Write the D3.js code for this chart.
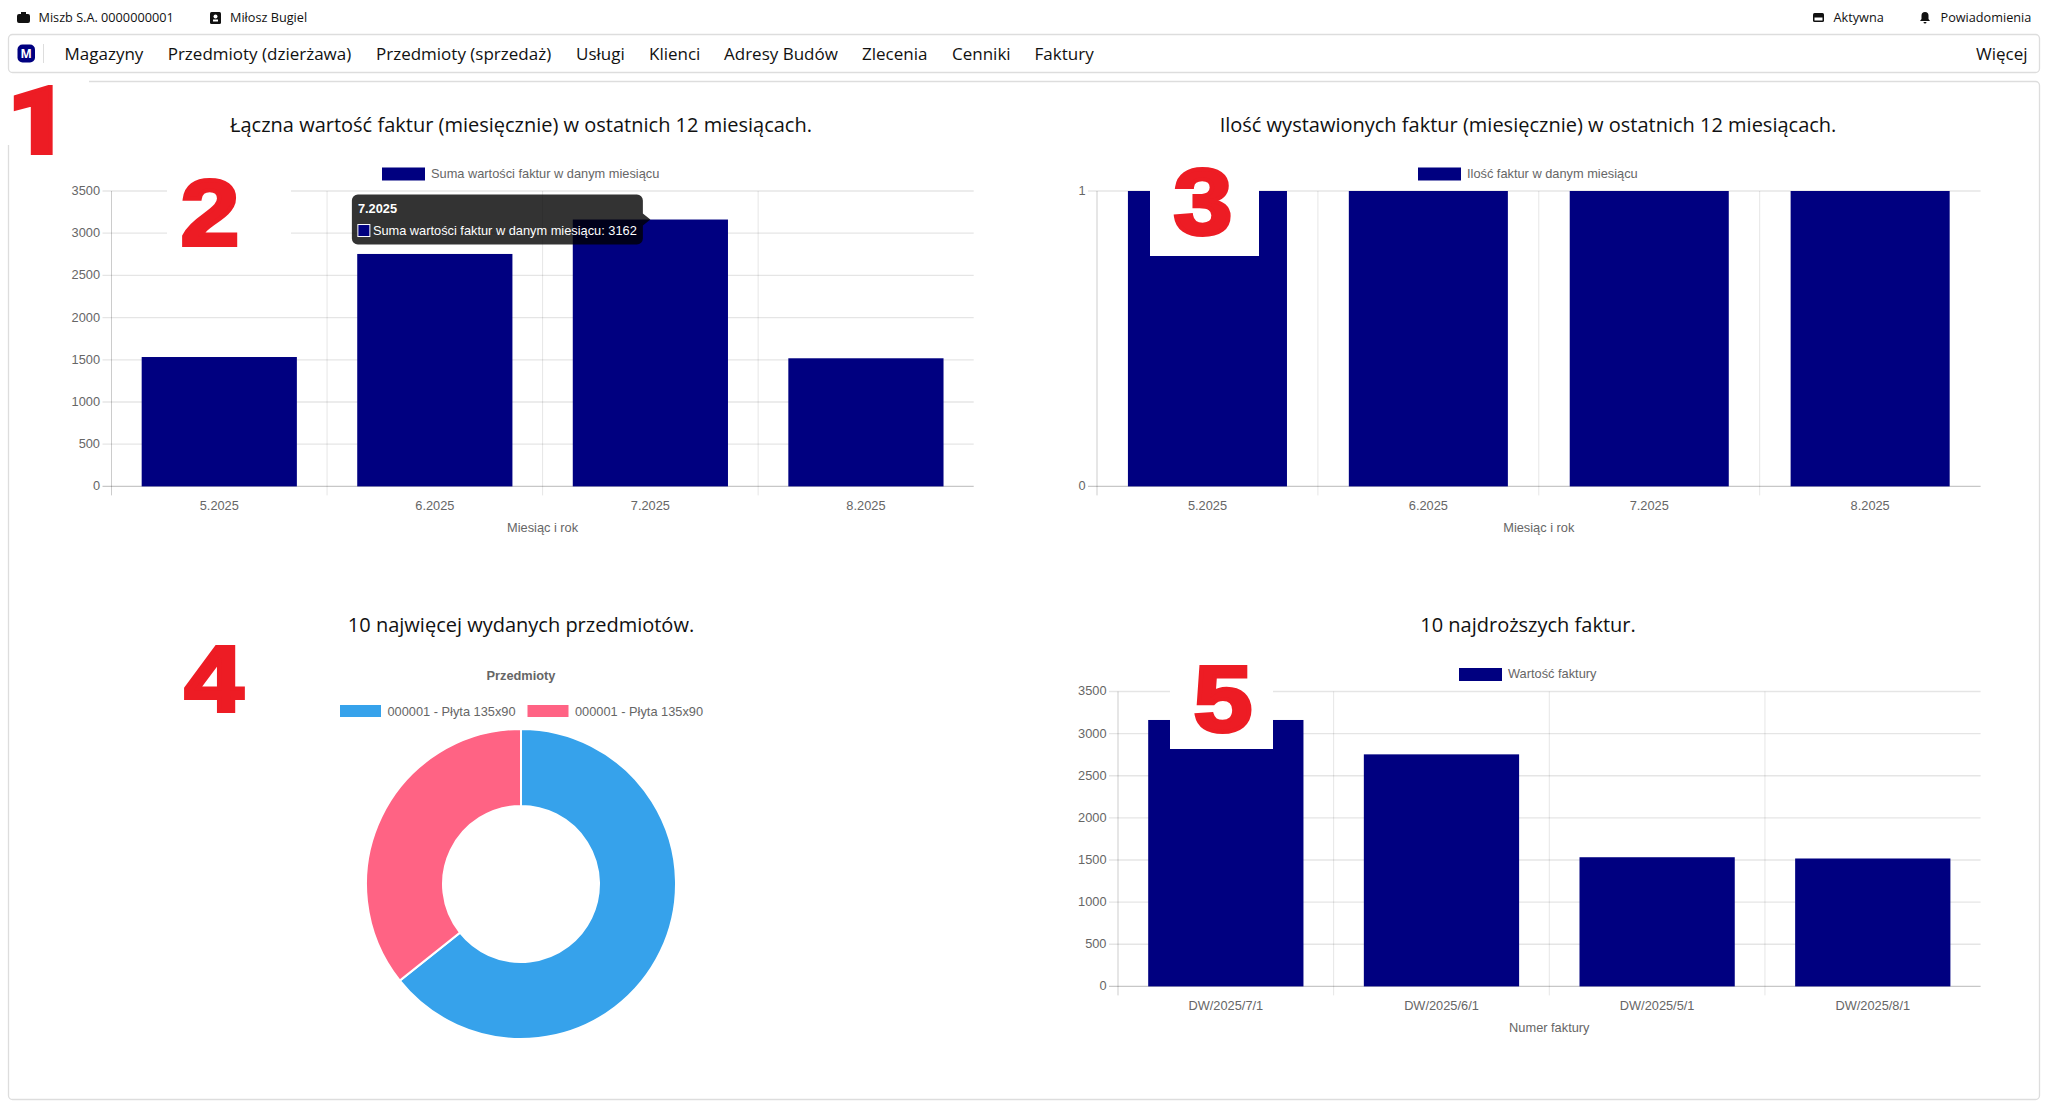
<!DOCTYPE html>
<html>
<head>
<meta charset="utf-8">
<script src="https://d3js.org/d3.v7.min.js"></script>
<style>
  body { margin: 0; background: #fff; }
  svg { display: block; }
  .ui { font-family: "Open Sans", sans-serif; fill: #111; }
  .ch { font-family: "Liberation Sans", Arial, sans-serif; fill: #666; font-size: 12.8px; }
</style>
</head>
<body>
<svg id="page" width="2048" height="1107"></svg>
<script>

// chart data
var months = ["5.2025", "6.2025", "7.2025", "8.2025"];
var monthTotals = [1533, 2754, 3162, 1518];
var monthCounts = [1, 1, 1, 1];
var invoiceNames = ["DW/2025/7/1", "DW/2025/6/1", "DW/2025/5/1", "DW/2025/8/1"];
var invoiceValues = [3162, 2754, 1533, 1518];
var itemNames = ["000001 - Płyta 135x90", "000001 - Płyta 135x90"];
var itemValues = [9, 5];
var itemColors = ["#36A2EB", "#FF6384"];
var valueTicks = [0, 500, 1000, 1500, 2000, 2500, 3000, 3500];
var countTicks = [0, 1];

// page chrome texts
var navItems = ["Magazyny", "Przedmioty (dzierżawa)", "Przedmioty (sprzedaż)", "Usługi", "Klienci", "Adresy Budów", "Zlecenia", "Cenniki", "Faktury"];
var navStarts = [64.5, 167.7, 376, 576, 649, 724, 862, 952, 1034.6];

var NAVY = "#000080";
var svg = d3.select("#page");

// outer frames
svg.append("rect").attr("x", 8.5).attr("y", 34.5).attr("width", 2031).attr("height", 38).attr("rx", 4)
  .attr("fill", "#fff").attr("stroke", "#ddd").attr("stroke-width", 1.3);
svg.append("rect").attr("x", 8.5).attr("y", 81.5).attr("width", 2031).attr("height", 1018).attr("rx", 4)
  .attr("fill", "#fff").attr("stroke", "#ddd").attr("stroke-width", 1.3);

// top strip
var topText = function(x, label) {
  svg.append("text").attr("class", "ui").attr("x", x).attr("y", 22).style("font-size", "12.7px").text(label);
};
topText(38.5, "Miszb S.A. 0000000001");
topText(230, "Miłosz Bugiel");
topText(1833.5, "Aktywna");
topText(1940.5, "Powiadomienia");

// little icons in the top strip
svg.append("path").attr("fill", "#111").attr("d", "M19 14h9a2 2 0 0 1 2 2v5a2 2 0 0 1-2 2H19a2 2 0 0 1-2-2v-5a2 2 0 0 1 2-2zM21 14v-2h5v2z");
svg.append("rect").attr("x", 210).attr("y", 12).attr("width", 11).attr("height", 12).attr("rx", 1.5).attr("fill", "#111");
svg.append("circle").attr("cx", 215.5).attr("cy", 16.5).attr("r", 2).attr("fill", "#fff");
svg.append("rect").attr("x", 213).attr("y", 19.5).attr("width", 5).attr("height", 2).attr("fill", "#fff");
svg.append("rect").attr("x", 1813).attr("y", 13).attr("width", 11).attr("height", 9).attr("rx", 1.5).attr("fill", "#111");
svg.append("rect").attr("x", 1814.5).attr("y", 17.5).attr("width", 8).attr("height", 3).attr("fill", "#fff");
svg.append("path").attr("fill", "#111").attr("d", "M1925 12a3.5 3.5 0 0 1 3.5 3.5v3.5l1.5 2h-10l1.5-2v-3.5a3.5 3.5 0 0 1 3.5-3.5zM1923.5 22h3a1.5 1.5 0 0 1-3 0z");

// nav bar
svg.append("rect").attr("x", 17.5).attr("y", 44.5).attr("width", 17.5).attr("height", 18).attr("rx", 5).attr("fill", NAVY);
svg.append("text").attr("x", 26.2).attr("y", 58).attr("text-anchor", "middle")
  .style("font-family", "Open Sans").style("font-weight", 700).style("font-size", "12px").attr("fill", "#fff").text("M");
svg.append("line").attr("x1", 43.5).attr("x2", 43.5).attr("y1", 44).attr("y2", 63).attr("stroke", "#ddd");
svg.selectAll(".nav").data(navItems).enter().append("text")
  .attr("class", "ui nav")
  .attr("x", function(d, i) { return navStarts[i]; })
  .attr("y", 60)
  .style("font-size", "17px")
  .text(function(d) { return d; });
svg.append("text").attr("class", "ui").attr("x", 2027.5).attr("y", 60).attr("text-anchor", "end").style("font-size", "17px").text("Więcej");

// title above a panel
var panelTitle = function(cx, y, label) {
  svg.append("text").attr("class", "ui").attr("x", cx).attr("y", y).attr("text-anchor", "middle")
    .style("font-size", "20px").text(label);
};

// single legend entry for bar charts
var barLegend = function(boxX, y, label) {
  svg.append("rect").attr("x", boxX).attr("y", y - 6.5).attr("width", 43).attr("height", 13).attr("fill", NAVY);
  svg.append("text").attr("class", "ch").attr("x", boxX + 49).attr("y", y + 3.5).text(label);
};

// bar chart panel, same build for all three
var barChart = function(o) {
  var g = svg.append("g");
  var x = d3.scaleBand().domain(o.cats).range([o.left, o.right]).paddingInner(0.28).paddingOuter(0.14);
  var y = d3.scaleLinear().domain(o.domain).range([o.bottom, o.top]);
  var inset = x.step() * 0.14;

  // grid
  g.selectAll(".hgrid").data(o.ticks).enter().append("line")
    .attr("x1", o.left - 9).attr("x2", o.right)
    .attr("y1", function(d) { return y(d); }).attr("y2", function(d) { return y(d); })
    .attr("stroke", function(d) { return d === 0 ? "rgba(0,0,0,0.22)" : "rgba(0,0,0,0.1)"; })
    .attr("stroke-width", 1.3);
  g.selectAll(".vgrid").data(o.cats).enter().append("line")
    .attr("x1", function(d) { return x(d) - inset; }).attr("x2", function(d) { return x(d) - inset; })
    .attr("y1", o.top).attr("y2", o.bottom + 9)
    .attr("stroke", function(d, i) { return i === 0 ? "rgba(0,0,0,0.2)" : "rgba(0,0,0,0.1)"; });

  // bars
  g.selectAll(".bar").data(o.values).enter().append("rect")
    .attr("x", function(d, i) { return x(o.cats[i]); })
    .attr("width", x.bandwidth())
    .attr("y", function(d) { return y(d); })
    .attr("height", function(d) { return y(0) - y(d); })
    .attr("fill", NAVY);

  // axes, only the labels are kept
  var yAxis = g.append("g").attr("transform", "translate(" + o.left + ",0)")
    .call(d3.axisLeft(y).tickValues(o.ticks).tickSize(0).tickPadding(11.5).tickFormat(d3.format("d")));
  var xAxis = g.append("g").attr("transform", "translate(0," + o.bottom + ")")
    .call(d3.axisBottom(x).tickSize(0).tickPadding(15));
  [yAxis, xAxis].forEach(function(a) {
    a.select(".domain").remove();
    a.selectAll("text").attr("class", "ch").attr("fill", null);
    a.attr("font-family", null).attr("font-size", null);
  });
  yAxis.selectAll("text").attr("dy", "0.27em");

  g.append("text").attr("class", "ch").attr("text-anchor", "middle")
    .attr("x", (o.left + o.right) / 2).attr("y", o.bottom + 46).text(o.axisTitle);

  return { x: x, y: y };
};

panelTitle(521, 132, "Łączna wartość faktur (miesięcznie) w ostatnich 12 miesiącach.");
barLegend(382, 174, "Suma wartości faktur w danym miesiącu");
var totals = barChart({ cats: months, values: monthTotals, domain: [0, 3500], ticks: valueTicks,
  left: 111.5, right: 973.7, top: 191, bottom: 486.4, axisTitle: "Miesiąc i rok" });

panelTitle(1528, 132, "Ilość wystawionych faktur (miesięcznie) w ostatnich 12 miesiącach.");
barLegend(1418, 174, "Ilość faktur w danym miesiącu");
barChart({ cats: months, values: monthCounts, domain: [0, 1], ticks: countTicks,
  left: 1097, right: 1980.6, top: 191, bottom: 486.4, axisTitle: "Miesiąc i rok" });

panelTitle(1528, 632, "10 najdroższych faktur.");
barLegend(1459, 674.5, "Wartość faktury");
barChart({ cats: invoiceNames, values: invoiceValues, domain: [0, 3500], ticks: valueTicks,
  left: 1118, right: 1980.6, top: 691.5, bottom: 986.4, axisTitle: "Numer faktury" });

// doughnut
panelTitle(521, 632, "10 najwięcej wydanych przedmiotów.");
svg.append("text").attr("class", "ch").attr("x", 521).attr("y", 680).attr("text-anchor", "middle")
  .style("font-weight", 700).text("Przedmioty");
var legendX = d3.scalePoint().domain(d3.range(itemNames.length)).range([340, 527.5]);
itemNames.forEach(function(name, i) {
  svg.append("rect").attr("x", legendX(i)).attr("y", 705).attr("width", 41).attr("height", 12).attr("fill", itemColors[i]);
  svg.append("text").attr("class", "ch").attr("x", legendX(i) + 47.5).attr("y", 715.5).text(name);
});
var pie = d3.pie().sort(null)(itemValues);
var arc = d3.arc().innerRadius(78).outerRadius(155);
svg.append("g").attr("transform", "translate(521,884)")
  .selectAll("path").data(pie).enter().append("path")
  .attr("d", arc)
  .attr("fill", function(d, i) { return itemColors[i]; })
  .attr("stroke", "#fff").attr("stroke-width", 2);

// tooltip on the third bar of the first chart
var hit = 2;
var tipX = totals.x(months[hit]) + totals.x.bandwidth() / 2;
var tipY = totals.y(monthTotals[hit]);
var tip = svg.append("g").attr("transform", "translate(" + tipX + "," + tipY + ")");
tip.append("path").attr("fill", "rgba(0,0,0,0.8)")
  .attr("d", "M-298.5 -19a6 6 0 0 1 6 -6H-13.5a6 6 0 0 1 6 6V-6L0 0L-7.5 6V19a6 6 0 0 1 -6 6H-292.5a6 6 0 0 1 -6 -6z");
tip.append("text").attr("x", -292.5).attr("y", -7).attr("fill", "#fff")
  .style("font-family", "Liberation Sans").style("font-weight", 700).style("font-size", "12.8px").text(months[hit]);
tip.append("rect").attr("x", -292.5).attr("y", 5).attr("width", 12).attr("height", 12).attr("fill", NAVY).attr("stroke", "#fff");
tip.append("text").attr("x", -277.5).attr("y", 15).attr("fill", "#fff")
  .style("font-family", "Liberation Sans").style("font-size", "12.8px").text("Suma wartości faktur w danym miesiącu: " + monthTotals[hit]);

// numbered annotations pasted over the screenshot
var patches = [[0, 74, 89, 71], [167, 165, 124, 85], [1150, 160, 109, 96], [1170, 650, 103, 99]];
svg.selectAll(".patch").data(patches).enter().append("rect")
  .attr("x", function(d) { return d[0]; }).attr("y", function(d) { return d[1]; })
  .attr("width", function(d) { return d[2]; }).attr("height", function(d) { return d[3]; })
  .attr("fill", "#fff");
var marks = [["1", 38, 153, "Roboto", 900], ["2", 210, 245, "Liberation Sans", 700], ["3", 1203, 234, "Liberation Sans", 700], ["4", 214, 711, "Liberation Sans", 700], ["5", 1223, 731, "Liberation Sans", 700]];
svg.selectAll(".mark").data(marks).enter().append("text")
  .attr("transform", function(d) { return "translate(" + d[1] + "," + d[2] + ") scale(1.13,1)"; })
  .attr("text-anchor", "middle")
  .attr("fill", "#ED1C24").attr("stroke", "#ED1C24").attr("stroke-width", 4)
  .style("font-family", function(d) { return d[3]; }).style("font-weight", function(d) { return d[4]; }).style("font-size", "93px")
  .text(function(d) { return d[0]; });

</script>
</body>
</html>
